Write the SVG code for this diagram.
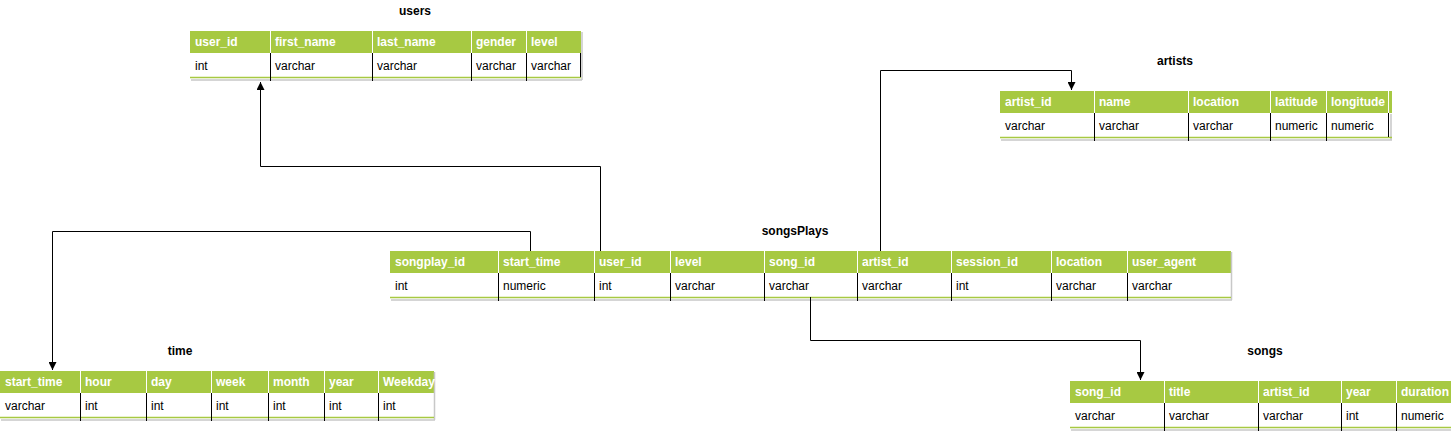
<svg xmlns="http://www.w3.org/2000/svg" width="1451" height="431" viewBox="0 0 1451 431">
<style>
.hdr{fill:#A7C942}
.row{fill:#ffffff}
.gl{stroke:#A7C942;stroke-width:1.5;fill:none}
.sh{stroke:#C8C8C8;stroke-width:1.5;fill:none}
.wd{stroke:#ffffff;stroke-width:1;fill:none}
.bd{stroke:#000000;stroke-width:1;fill:none}
.ht{font-family:"Liberation Sans",Arial,sans-serif;font-size:12px;font-weight:bold;fill:#ffffff}
.dt{font-family:"Liberation Sans",Arial,sans-serif;font-size:12px;fill:#000000}
.tt{font-family:"Liberation Sans",Arial,sans-serif;font-size:12px;font-weight:bold;fill:#000000;text-anchor:middle}
.cn{stroke:#000000;stroke-width:1;fill:none;marker-end:url(#arr)}
</style>
<defs>
<marker id="arr" viewBox="0 0 8 8" refX="8" refY="4" markerWidth="8" markerHeight="8" markerUnits="userSpaceOnUse" orient="auto">
<path d="M0,0 L8,4 L0,8 Z" fill="#000000"/>
</marker>
</defs>
<rect width="1451" height="431" fill="#ffffff"/>

<g id="users">
<text class="tt" x="415" y="15">users</text>
<rect class="hdr" x="190" y="31" width="391" height="22"/>
<rect class="row" x="190" y="53" width="391" height="24"/>
<path class="sh" d="M191 80H582M582 32V80"/>
<path class="gl" d="M190 77.5H581"/>
<path class="wd" d="M270.5 31V53M372.5 31V53M471.5 31V53M526.5 31V53"/>
<path class="bd" d="M270.5 53V81M372.5 53V81M471.5 53V81M526.5 53V81M580.5 53V77"/>
<text class="ht" x="195" y="46">user_id</text><text class="ht" x="275" y="46">first_name</text><text class="ht" x="377" y="46">last_name</text><text class="ht" x="476" y="46">gender</text><text class="ht" x="531" y="46">level</text>
<text class="dt" x="195" y="70">int</text><text class="dt" x="275" y="70">varchar</text><text class="dt" x="377" y="70">varchar</text><text class="dt" x="476" y="70">varchar</text><text class="dt" x="531" y="70">varchar</text>
</g>

<g id="artists">
<text class="tt" x="1175" y="65">artists</text>
<rect class="hdr" x="1000" y="91" width="392" height="22"/>
<rect class="row" x="1000" y="113" width="392" height="24"/>
<path class="sh" d="M1001 140H1392M1391 114V140"/>
<path class="gl" d="M1000 137.5H1392"/>
<path class="wd" d="M1094.5 91V113M1188.5 91V113M1270.5 91V113M1326.5 91V113M1388.5 91V113"/>
<path class="bd" d="M1094.5 113V141M1188.5 113V141M1270.5 113V141M1326.5 113V141M1388.5 113V137"/>
<text class="ht" x="1005" y="106">artist_id</text><text class="ht" x="1099" y="106">name</text><text class="ht" x="1193" y="106">location</text><text class="ht" x="1275" y="106">latitude</text><text class="ht" x="1331" y="106">longitude</text>
<text class="dt" x="1005" y="130">varchar</text><text class="dt" x="1099" y="130">varchar</text><text class="dt" x="1193" y="130">varchar</text><text class="dt" x="1275" y="130">numeric</text><text class="dt" x="1331" y="130">numeric</text>
</g>

<g id="songsPlays">
<text class="tt" x="795" y="235">songsPlays</text>
<rect class="hdr" x="390" y="251" width="841" height="22"/>
<rect class="row" x="390" y="273" width="841" height="24"/>
<path class="sh" d="M391 300H1232M1231.5 252V300"/>
<path class="gl" d="M390 297.5H1231"/>
<path class="wd" d="M498.5 251V273M594.5 251V273M670.5 251V273M764.5 251V273M857.5 251V273M951.5 251V273M1051.5 251V273M1127.5 251V273"/>
<path class="bd" d="M498.5 273V301M594.5 273V301M670.5 273V301M764.5 273V301M857.5 273V301M951.5 273V301M1051.5 273V301M1127.5 273V301"/>
<text class="ht" x="395" y="266">songplay_id</text><text class="ht" x="503" y="266">start_time</text><text class="ht" x="599" y="266">user_id</text><text class="ht" x="675" y="266">level</text><text class="ht" x="769" y="266">song_id</text><text class="ht" x="862" y="266">artist_id</text><text class="ht" x="956" y="266">session_id</text><text class="ht" x="1056" y="266">location</text><text class="ht" x="1132" y="266">user_agent</text>
<text class="dt" x="395" y="290">int</text><text class="dt" x="503" y="290">numeric</text><text class="dt" x="599" y="290">int</text><text class="dt" x="675" y="290">varchar</text><text class="dt" x="769" y="290">varchar</text><text class="dt" x="862" y="290">varchar</text><text class="dt" x="956" y="290">int</text><text class="dt" x="1056" y="290">varchar</text><text class="dt" x="1132" y="290">varchar</text>
</g>

<g id="time">
<text class="tt" x="180" y="355">time</text>
<rect class="hdr" x="0" y="371" width="434" height="22"/>
<rect class="row" x="0" y="393" width="434" height="24"/>
<path class="sh" d="M1 420H435M434.5 372V420"/>
<path class="gl" d="M0 417.5H434"/>
<path class="wd" d="M80.5 371V393M146.5 371V393M211.5 371V393M268.5 371V393M324.5 371V393M378.5 371V393"/>
<path class="bd" d="M80.5 393V421M146.5 393V421M211.5 393V421M268.5 393V421M324.5 393V421M378.5 393V421"/>
<text class="ht" x="5" y="386">start_time</text><text class="ht" x="85" y="386">hour</text><text class="ht" x="151" y="386">day</text><text class="ht" x="216" y="386">week</text><text class="ht" x="273" y="386">month</text><text class="ht" x="329" y="386">year</text><text class="ht" x="383" y="386">Weekday</text>
<text class="dt" x="5" y="410">varchar</text><text class="dt" x="85" y="410">int</text><text class="dt" x="151" y="410">int</text><text class="dt" x="216" y="410">int</text><text class="dt" x="273" y="410">int</text><text class="dt" x="329" y="410">int</text><text class="dt" x="383" y="410">int</text>
</g>

<g id="songs">
<text class="tt" x="1265" y="355">songs</text>
<rect class="hdr" x="1070" y="381" width="390" height="22"/>
<rect class="row" x="1070" y="403" width="390" height="24"/>
<path class="sh" d="M1071 430H1460"/>
<path class="gl" d="M1070 427.5H1460"/>
<path class="wd" d="M1164.5 381V403M1258.5 381V403M1341.5 381V403M1396.5 381V403"/>
<path class="bd" d="M1164.5 403V431M1258.5 403V431M1341.5 403V431M1396.5 403V431"/>
<text class="ht" x="1075" y="396">song_id</text><text class="ht" x="1169" y="396">title</text><text class="ht" x="1263" y="396">artist_id</text><text class="ht" x="1346" y="396">year</text><text class="ht" x="1401" y="396">duration</text>
<text class="dt" x="1075" y="420">varchar</text><text class="dt" x="1169" y="420">varchar</text><text class="dt" x="1263" y="420">varchar</text><text class="dt" x="1346" y="420">int</text><text class="dt" x="1401" y="420">numeric</text>
</g>

<g id="connectors">
<path class="cn" d="M600.5 251V166.5H260.5V82"/>
<path class="cn" d="M530.5 251V231.5H52.5V370"/>
<path class="cn" d="M880.5 251V70.5H1071.5V90"/>
<path class="cn" d="M810.5 297V340.5H1140.5V380"/>
</g>
</svg>
